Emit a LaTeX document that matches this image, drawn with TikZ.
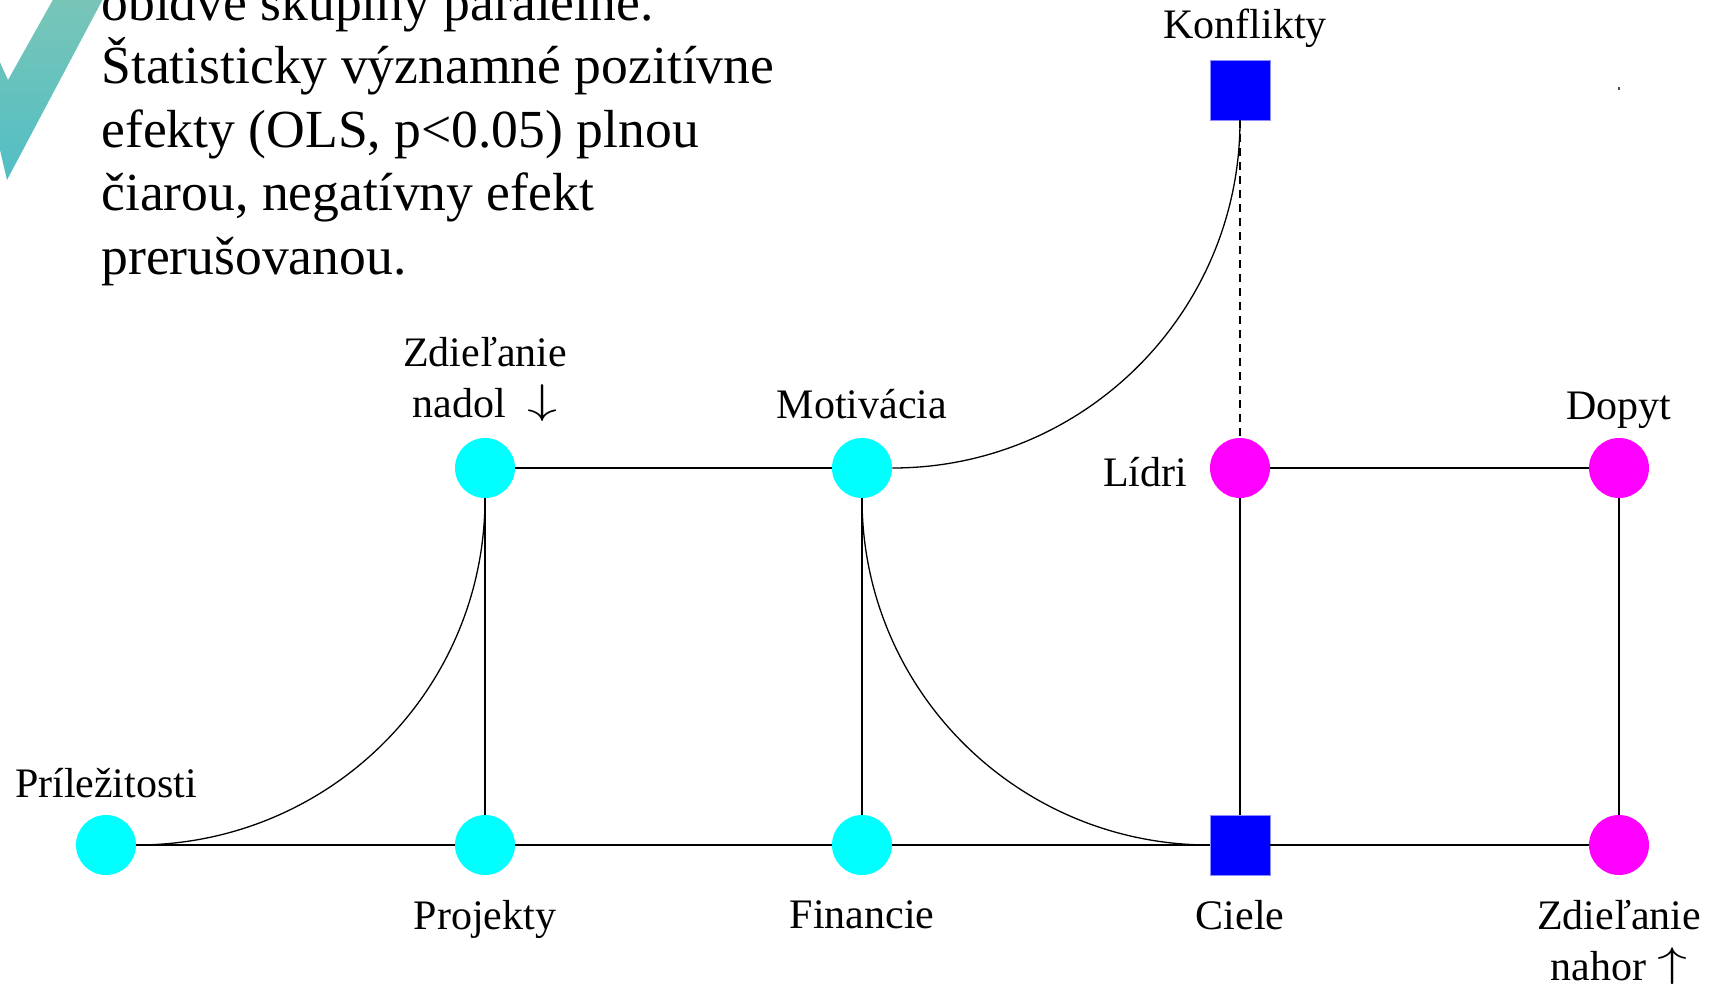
\documentclass[tikz,border=0pt]{standalone}
\usepackage{graphicx}
\usepackage{fontspec}
\setmainfont{Liberation Serif}
\usetikzlibrary{positioning}

\definecolor{checktop}{RGB}{124,198,182}
\definecolor{checkbot}{RGB}{82,190,196}
\definecolor{nodecyan}{RGB}{0,255,255}
\definecolor{nodepink}{RGB}{255,0,255}
\definecolor{nodeblue}{RGB}{0,0,255}

\newcommand{\dnarrow}{\raisebox{2pt}{\scalebox{1.45}[1]{$\downarrow$}}}
\newcommand{\uparrowtxt}{\raisebox{2pt}{\scalebox{1.45}[1]{$\uparrow$}}}

\begin{document}
\begin{tikzpicture}[
      x = 0.5pt, y = -0.5pt,
      node distance = 9pt,
      every node/.style = { inner sep = 0pt },
      dotnode/.style = { circle, minimum size = 30pt },
      cyandot/.style = { dotnode, fill = nodecyan },
      pinkdot/.style = { dotnode, fill = nodepink },
      sqnode/.style = {
        rectangle, minimum size = 30pt,
        fill = nodeblue, draw = nodeblue!45!white, line width = 0.4pt
      },
      lbl/.style = { font = \fontsize{21pt}{25.5pt}\selectfont, align = center },
      link/.style = { black, line width = 0.65pt },
    ]

    \useasboundingbox (0,0) rectangle (1709,986);

    % fajka vlavo hore
    \shade[top color = checktop, bottom color = checkbot]
      (64,-20) -- (8,80) -- (-10,40) -- (-10,107) -- (7,180) -- (113,-20) -- cycle;

    % base = posledny riadok
    \node[anchor = base west, align = left,
          font = \fontsize{26.8pt}{31.75pt}\selectfont] (note) at (101,274)
      {obidve skupiny paralelne.\\
       Štatisticky významné pozitívne\\
       efekty (OLS, p<0.05) plnou\\
       čiarou, negatívny efekt\\
       prerušovanou.};

    % uzly
    \node[cyandot] (Pri) at (106,845) {};
    \node[cyandot] (Pro) at (485,845) {};
    \node[cyandot] (Fin) at (862,845) {};
    \node[sqnode]  (Cie) at (1240,845) {};
    \node[pinkdot] (Nah) at (1619,845) {};
    \node[cyandot] (Nad) at (485,468) {};
    \node[cyandot] (Mot) at (862,468) {};
    \node[pinkdot] (Lid) at (1240,468) {};
    \node[pinkdot] (Dop) at (1619,468) {};
    \node[sqnode]  (Kon) at (1240,90) {};

    % popisy
    \node[lbl, above = 6pt of Kon, xshift = 2.5pt] {Konflikty};
    \node[lbl, above = 8pt of Nad] {Zdieľanie\\nadol~~\dnarrow};
    \node[lbl, above = 9pt of Mot] {Motivácia};
    \node[lbl, above = 4.4pt of Dop] {Dopyt};
    \node[lbl, left = 11pt of Lid, yshift = -2pt] {Lídri};
    \node[lbl, above = 8pt of Pri] {Príležitosti};
    \node[lbl, below = 12.2pt of Pro] {Projekty};
    \node[lbl, below = 12.2pt of Fin] {Financie};
    \node[lbl, below = 12.2pt of Cie] {Ciele};
    \node[lbl, below = 12.2pt of Nah] {Zdieľanie\\nahor \uparrowtxt};

    % hrany
    \draw[link] (Pri) -- (Pro) -- (Fin) -- (Cie) -- (Nah);
    \draw[link] (Nad) -- (Mot);
    \draw[link] (Lid) -- (Dop);
    \foreach \a/\b in {Nad/Pro, Mot/Fin, Lid/Cie, Dop/Nah} {
      \draw[link] (\a) -- (\b);
    }
    \draw[link, dash pattern = on 4pt off 3pt] (Kon) -- (Lid);

    \draw[link] (Pri.east) .. controls +(193,0) and +(0,192) .. (Nad.south);
    \draw[link] (Mot.south) .. controls +(0,192) and +(-192,0) .. (Cie.west);
    \draw[link] (Kon.south) .. controls +(0,192) and +(192,0) .. (Mot.east);

    \fill[black!70] (1618,87) rectangle (1620,90);
  \end{tikzpicture}
\end{document}
